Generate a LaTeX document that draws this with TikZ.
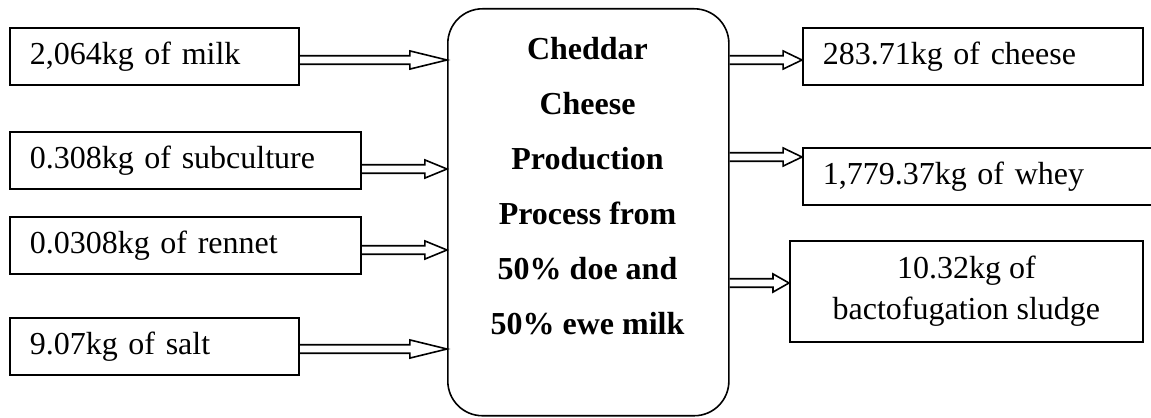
\documentclass[tikz,border=0pt]{standalone}
\usepackage{fontspec}
\setmainfont{Liberation Serif}
\usetikzlibrary{calc}

\tikzset{
  box/.style={draw, line width=0.6pt, anchor=north west, inner xsep=7.5pt, inner ysep=0pt,
    align=left, minimum height=21.5pt},
  flow/.style={line width=0.6pt, to path={
    let \p1=(\tikztostart), \p2=(\tikztotarget) in
    (\x1,\y1+1.6pt) -- (\x2-#1,\y1+1.6pt) -- (\x2-#1,\y1+3.4pt) -- (\x2,\y1)
    -- (\x2-#1,\y1-3.4pt) -- (\x2-#1,\y1-1.6pt) -- (\x1,\y1-1.6pt)}}
}

\begin{document}
\begin{tikzpicture}[x=0.375pt, y=-0.375pt, font=\fontsize{12}{14}\selectfont]
\useasboundingbox (0,0) rectangle (1151,417);

% inputs, on the left
\node[box, text width=93.4pt] (milk) at (9,27) {2,064kg of milk};
\node[box, text width=116.6pt] (sub) at (9,131) {0.308kg of subculture};
\node[box, text width=116.6pt] (rennet) at (9,216) {0.0308kg of rennet};
\node[box, text width=93.4pt] (salt) at (9,317) {9.07kg of salt};

% the process box and its text
\node[draw, line width=0.6pt, rounded corners=13pt, anchor=north west,
  minimum width=105.4pt, minimum height=152.6pt] (proc) at (447,8) {};
\node[anchor=north, inner sep=0pt, align=center,
  font=\fontsize{12}{20.6}\selectfont\bfseries] (ptext) at (587.5,37)
  {Cheddar\\Cheese\\Production\\Process from\\50\% doe and\\50\% ewe milk};

% outputs, on the right (whey box runs off the edge)
\node[box, text width=112.5pt] (cheese) at (802,27) {283.71kg of cheese};
\node[box, text width=121pt] (whey) at (802,147) {1,779.37kg of whey};
\node[box, align=center, inner xsep=0pt, minimum width=132.4pt, minimum height=37.9pt,
  font=\fontsize{12}{15.4}\selectfont] (sludge) at (789,240) {10.32kg of\\bactofugation sludge};

% arrows in
\draw[flow=13.9pt] (milk.east |- 0,60) to (proc.west |- 0,60);
\draw[flow=8.3pt] (sub.east |- 0,169) to (proc.west |- 0,169);
\draw[flow=8.3pt] (rennet.east |- 0,250) to (proc.west |- 0,250);
\draw[flow=13.9pt] (salt.east |- 0,349) to (proc.west |- 0,349);

% arrows out
\draw[flow=7.1pt] (proc.east |- 0,60) to (cheese.west |- 0,60);
\draw[flow=7.1pt] (proc.east |- 0,157) to (whey.west |- 0,157);
\draw[flow=6pt] (proc.east |- 0,283) to (sludge.west |- 0,283);

\end{tikzpicture}
\end{document}
